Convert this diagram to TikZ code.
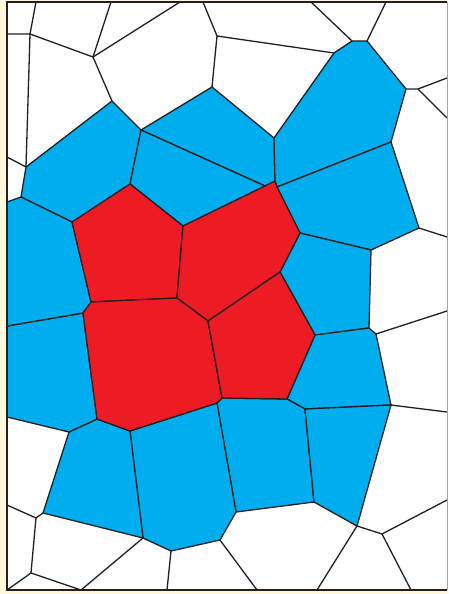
\documentclass[tikz,border=0pt]{standalone}
\definecolor{bgyellow}{HTML}{FFF9DB}
\definecolor{cellblue}{HTML}{00AEEF}
\definecolor{cellred}{HTML}{ED1C24}
\definecolor{edgecol}{HTML}{231F20}
\begin{document}
\begin{tikzpicture}[x=1pt,y=-1pt,
  edge/.style={draw=edgecol,line width=1.3pt,line join=round,line cap=round},
  bluecell/.style={edge,fill=cellblue},
  redcell/.style={edge,fill=cellred}]
\useasboundingbox (0,0) rectangle (448,594);
\fill[bgyellow] (0,0) rectangle (448,594);
\fill[white] (7,2) rectangle (447,590);
% vertices
\coordinate (v1) at (36,2);
\coordinate (v2) at (30,34);
\coordinate (v3) at (7,34);
\coordinate (v4) at (93,57);
\coordinate (v5) at (111,2);
\coordinate (v6) at (180,2);
\coordinate (v7) at (112,101);
\coordinate (v8) at (141,130);
\coordinate (v9) at (26,167);
\coordinate (v10) at (7,157);
\coordinate (v11) at (21,197);
\coordinate (v12) at (7,202);
\coordinate (v13) at (203,2);
\coordinate (v14) at (217,36);
\coordinate (v15) at (212,87);
\coordinate (v16) at (334,53);
\coordinate (v17) at (352,41);
\coordinate (v18) at (311,2);
\coordinate (v19) at (367,41);
\coordinate (v20) at (386,2);
\coordinate (v21) at (406,89);
\coordinate (v22) at (418,89);
\coordinate (v23) at (447,78);
\coordinate (v24) at (447,118);
\coordinate (v25) at (274,138);
\coordinate (v26) at (391,142);
\coordinate (v27) at (265,186);
\coordinate (v28) at (275,181);
\coordinate (v29) at (277,187);
\coordinate (v30) at (130,184);
\coordinate (v31) at (72,222);
\coordinate (v32) at (183,226);
\coordinate (v33) at (91,302);
\coordinate (v34) at (177,298);
\coordinate (v35) at (208,321);
\coordinate (v36) at (83,313);
\coordinate (v37) at (7,326);
\coordinate (v38) at (300,233);
\coordinate (v39) at (280,272);
\coordinate (v40) at (315,335);
\coordinate (v41) at (371,250);
\coordinate (v42) at (419,228);
\coordinate (v43) at (447,237);
\coordinate (v44) at (369,328);
\coordinate (v45) at (376,334);
\coordinate (v46) at (447,311);
\coordinate (v47) at (287,399);
\coordinate (v48) at (222,398);
\coordinate (v49) at (217,403);
\coordinate (v50) at (130,431);
\coordinate (v51) at (97,419);
\coordinate (v52) at (69,432);
\coordinate (v53) at (7,417);
\coordinate (v54) at (305,409);
\coordinate (v55) at (391,405);
\coordinate (v56) at (447,412);
\coordinate (v57) at (357,526);
\coordinate (v58) at (314,502);
\coordinate (v59) at (236,512);
\coordinate (v60) at (220,540);
\coordinate (v61) at (171,551);
\coordinate (v62) at (143,538);
\coordinate (v63) at (43,513);
\coordinate (v64) at (36,518);
\coordinate (v65) at (7,505);
\coordinate (v66) at (31,573);
\coordinate (v67) at (7,590);
\coordinate (v68) at (81,590);
\coordinate (v69) at (167,590);
\coordinate (v70) at (257,590);
\coordinate (v71) at (317,590);
\coordinate (v72) at (382,534);
\coordinate (v73) at (411,590);
\coordinate (v74) at (447,500);
% blue cells
\path[bluecell] (v7) -- (v8) -- (v30) -- (v31) -- (v11) -- (v9) -- cycle;
\path[bluecell] (v8) -- (v15) -- (v25) -- (v28) -- (v27) -- cycle;
\path[bluecell] (v8) -- (v27) -- (v32) -- (v30) -- cycle;
\path[bluecell] (v16) -- (v17) -- (v19) -- (v21) -- (v26) -- (v29) -- (v28) -- (v25) -- cycle;
\path[bluecell] (v29) -- (v26) -- (v42) -- (v41) -- (v38) -- cycle;
\path[bluecell] (v38) -- (v41) -- (v44) -- (v40) -- (v39) -- cycle;
\path[bluecell] (v40) -- (v44) -- (v45) -- (v55) -- (v54) -- (v47) -- cycle;
\path[bluecell] (v47) -- (v54) -- (v58) -- (v59) -- (v49) -- (v48) -- cycle;
\path[bluecell] (v54) -- (v55) -- (v57) -- (v58) -- cycle;
\path[bluecell] (v49) -- (v59) -- (v60) -- (v61) -- (v62) -- (v50) -- cycle;
\path[bluecell] (v51) -- (v50) -- (v62) -- (v63) -- (v52) -- cycle;
\path[bluecell] (v37) -- (v36) -- (v51) -- (v52) -- (v53) -- cycle;
\path[bluecell] (v12) -- (v11) -- (v31) -- (v33) -- (v36) -- (v37) -- cycle;
% red cells
\path[redcell] (v30) -- (v32) -- (v34) -- (v33) -- (v31) -- cycle;
\path[redcell] (v32) -- (v27) -- (v28) -- (v29) -- (v38) -- (v39) -- (v35) -- (v34) -- cycle;
\path[redcell] (v33) -- (v34) -- (v35) -- (v48) -- (v49) -- (v50) -- (v51) -- (v36) -- cycle;
\path[redcell] (v35) -- (v39) -- (v40) -- (v47) -- (v48) -- cycle;
% remaining edges of white cells
\draw[edge] (v1) -- (v2) -- (v3);
\draw[edge] (v2) -- (v4) -- (v5);
\draw[edge] (v4) -- (v6);
\draw[edge] (v4) -- (v7);
\draw[edge] (v2) -- (v9) -- (v10);
\draw[edge] (v13) -- (v14) -- (v15);
\draw[edge] (v14) -- (v16);
\draw[edge] (v17) -- (v18);
\draw[edge] (v19) -- (v20);
\draw[edge] (v21) -- (v22) -- (v23);
\draw[edge] (v22) -- (v24);
\draw[edge] (v42) -- (v43);
\draw[edge] (v45) -- (v46);
\draw[edge] (v55) -- (v56);
\draw[edge] (v57) -- (v72) -- (v74);
\draw[edge] (v72) -- (v73);
\draw[edge] (v57) -- (v71);
\draw[edge] (v60) -- (v70);
\draw[edge] (v61) -- (v69);
\draw[edge] (v62) -- (v68);
\draw[edge] (v63) -- (v64) -- (v65);
\draw[edge] (v64) -- (v66) -- (v67);
\draw[edge] (v66) -- (v68);
% frame
\draw[draw=gray!70,line width=0.8pt] (447,2) -- (447,590);
\draw[draw=edgecol,line width=1.5pt] (447,590) -- (7,590) -- (7,2) -- (447,2);
\end{tikzpicture}
\end{document}
